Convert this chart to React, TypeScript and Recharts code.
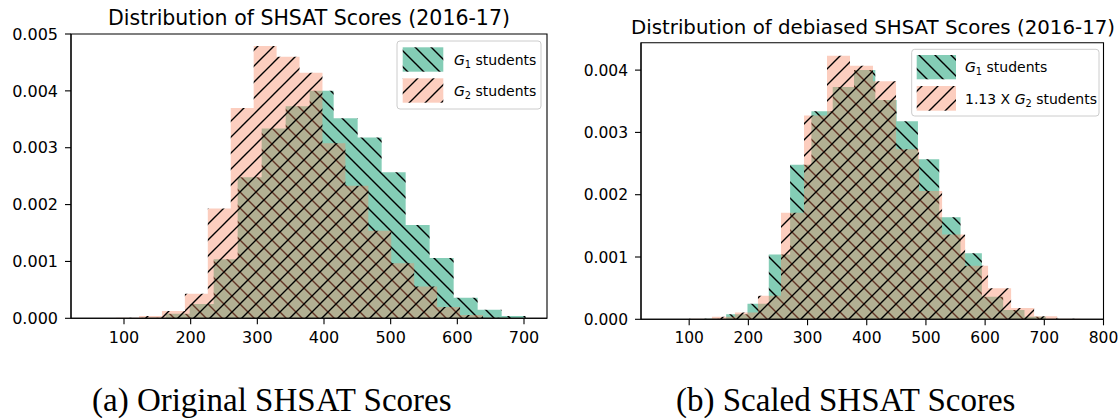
import React from 'react';
import { ComposedChart, Area, XAxis, YAxis, ReferenceArea } from 'recharts';

// ---------- data ----------
const g1Edges = [54.5, 90.5, 126.5, 162.5, 198.5, 234.5, 270.5, 306.5, 342.5, 378.5, 414.5, 450.5, 486.5, 522.5, 558.5, 594.5, 630.5, 666.5, 702.5];
const g1Density = [0, 0, 0.00001, 0.00008, 0.00025, 0.00104, 0.00248, 0.00334, 0.00373, 0.004, 0.00352, 0.00318, 0.00257, 0.00164, 0.00106, 0.00036, 0.00015, 0.00004];

const g2Edges = [53.7, 88.1, 122.5, 156.9, 191.3, 225.7, 260.1, 294.5, 328.9, 363.3, 397.7, 432.1, 466.5, 500.9, 535.3, 569.7, 604.1, 638.5, 672.9];
const g2Density = [0, 0.00001, 0.00004, 0.00013, 0.00043, 0.00193, 0.0037, 0.00479, 0.0046, 0.00432, 0.00308, 0.00233, 0.00154, 0.00097, 0.00056, 0.0002, 0.00006, 0.00001];

const g2ScaledEdges = [60.7, 99.6, 138.4, 177.3, 216.2, 255.1, 294.0, 332.9, 371.7, 410.6, 449.5, 488.4, 527.3, 566.2, 605.0, 643.9, 682.8, 721.7, 760.6];
const g2ScaledDensity = [0, 0.00001, 0.00004, 0.00011, 0.00038, 0.00171, 0.00327, 0.00423, 0.00407, 0.00382, 0.00273, 0.00206, 0.00136, 0.00086, 0.0005, 0.00018, 0.00005, 0.00001];

const leftXTicks = [100, 200, 300, 400, 500, 600, 700];
const rightXTicks = [100, 200, 300, 400, 500, 600, 700, 800];
const leftYTicks = [0, 0.001, 0.002, 0.003, 0.004, 0.005];
const rightYTicks = [0, 0.001, 0.002, 0.003, 0.004];

const leftTitle = 'Distribution of SHSAT Scores (2016-17)';
const rightTitle = 'Distribution of debiased SHSAT Scores (2016-17)';
const captionA = '(a) Original SHSAT Scores';
const captionB = '(b) Scaled SHSAT Scores';

// ---------- style ----------
const FONT = "'DejaVu Sans', sans-serif";
const SERIF = "'Liberation Serif', 'DejaVu Serif', serif";
const G1_COLOR = '#84CDB6';
const G2_COLOR = '#F8845F';
const G2_ALPHA = 0.4;
const S = 16;

type Pt = { x: number; g1?: number | null; g2?: number | null };

function steps(edges: number[], dens: number[], key: 'g1' | 'g2'): Pt[] {
  const pts: Pt[] = [];
  for (let i = 0; i < dens.length; i++) pts.push({ x: edges[i], [key]: dens[i] } as Pt);
  pts.push({ x: edges[dens.length], [key]: dens[dens.length - 1] } as Pt);
  return pts;
}

function merge(a: Pt[], b: Pt[]): Pt[] {
  return [...a, ...b].sort((p, q) => p.x - q.x);
}

const leftData = merge(steps(g1Edges, g1Density, 'g1'), steps(g2Edges, g2Density, 'g2'));
const rightData = merge(steps(g1Edges, g1Density, 'g1'), steps(g2ScaledEdges, g2ScaledDensity, 'g2'));

function hatchDefs(prefix: string) {
  const back = `M0,0L${S},${S}M${-S / 4},${(S * 3) / 4}L${S / 4},${(S * 5) / 4}M${(S * 3) / 4},${-S / 4}L${(S * 5) / 4},${S / 4}`;
  const fwd = `M0,${S}L${S},0M${-S / 4},${S / 4}L${S / 4},${-S / 4}M${(S * 3) / 4},${(S * 5) / 4}L${(S * 5) / 4},${(S * 3) / 4}`;
  return (
    <defs>
      <pattern id={`${prefix}-g1`} patternUnits="userSpaceOnUse" width={S} height={S}>
        <rect width={S} height={S} fill={G1_COLOR} />
        <path d={back} stroke="#000" strokeWidth={1.4} />
      </pattern>
      <pattern id={`${prefix}-g2`} patternUnits="userSpaceOnUse" width={S} height={S}>
        <rect width={S} height={S} fill={G2_COLOR} fillOpacity={G2_ALPHA} />
        <path d={fwd} stroke="#000" strokeWidth={1.4} />
      </pattern>
    </defs>
  );
}

const axisLine = { stroke: '#000', strokeWidth: 1.1 };

type PanelProps = {
  id: string;
  data: Pt[];
  xDomain: [number, number];
  yDomain: [number, number];
  xTicks: number[];
  yTicks: number[];
  margin: { top: number; right: number; bottom: number; left: number };
  fontSize: number;
};

function Panel({ id, data, xDomain, yDomain, xTicks, yTicks, margin, fontSize }: PanelProps) {
  const tick = { fontSize, fill: '#000', fontFamily: FONT };
  return (
    <ComposedChart width={560} height={360} data={data} margin={margin}>
      {hatchDefs(id)}
      <XAxis
        dataKey="x"
        type="number"
        domain={xDomain}
        allowDataOverflow
        ticks={xTicks}
        interval={0}
        height={30}
        tickSize={6}
        tickMargin={7}
        axisLine={axisLine}
        tickLine={{ stroke: '#000', strokeWidth: 1.1 }}
        tick={tick}
      />
      <YAxis
        type="number"
        domain={yDomain}
        allowDataOverflow
        ticks={yTicks}
        interval={0}
        width={60}
        tickSize={6}
        tickMargin={7}
        tickFormatter={(v: number) => v.toFixed(3)}
        axisLine={axisLine}
        tickLine={{ stroke: '#000', strokeWidth: 1.1 }}
        tick={tick}
      />
      <Area dataKey="g1" type="stepAfter" connectNulls stroke="none" fill={`url(#${id}-g1)`} fillOpacity={1} isAnimationActive={false} dot={false} activeDot={false} />
      <Area dataKey="g2" type="stepAfter" connectNulls stroke="none" fill={`url(#${id}-g2)`} fillOpacity={1} isAnimationActive={false} dot={false} activeDot={false} />
      <ReferenceArea
        x1={xDomain[0]}
        x2={xDomain[1]}
        y1={yDomain[0]}
        y2={yDomain[1]}
        fill="none"
        fillOpacity={0}
        stroke="#000"
        strokeWidth={1.1}
        ifOverflow="visible"
      />
    </ComposedChart>
  );
}

function LegendLabel({ x, y, prefix, sub }: { x: number; y: number; prefix?: string; sub: string }) {
  return (
    <text x={x} y={y} fontSize={14} fontFamily={FONT} fill="#000" style={{ whiteSpace: 'pre' }}>
      {prefix ? <tspan>{prefix}</tspan> : null}
      <tspan fontStyle="italic">G</tspan>
      <tspan fontSize={9.8} dy={3}>{sub}</tspan>
      <tspan dy={-3}>{' students'}</tspan>
    </text>
  );
}

export default function App() {
  return (
    <div style={{ position: 'absolute', left: 0, top: 0, width: 1120, height: 420, background: '#fff', overflow: 'hidden' }}>
      <div style={{ position: 'absolute', left: 0, top: 0 }}>
        <Panel
          id="L"
          data={leftData}
          xDomain={[20.5, 734.5]}
          yDomain={[0, 0.005]}
          xTicks={leftXTicks}
          yTicks={leftYTicks}
          margin={{ top: 34, right: 13, bottom: 11.7, left: 11 }}
          fontSize={16}
        />
      </div>
      <div style={{ position: 'absolute', left: 560, top: 0 }}>
        <Panel
          id="R"
          data={rightData}
          xDomain={[18.6, 800]}
          yDomain={[0, 0.00444]}
          xTicks={rightXTicks}
          yTicks={rightYTicks}
          margin={{ top: 42.7, right: 16.5, bottom: 10.7, left: 21 }}
          fontSize={15.5}
        />
      </div>
      <svg width={1120} height={420} style={{ position: 'absolute', left: 0, top: 0, pointerEvents: 'none' }}>
        {hatchDefs('O')}
        <text x={309} y={25} textAnchor="middle" fontSize={20.5} fontFamily={FONT} fill="#000">{leftTitle}</text>
        <text x={873} y={34} textAnchor="middle" fontSize={19.8} fontFamily={FONT} fill="#000">{rightTitle}</text>

        <rect x={397} y={41} width={144} height={68} rx={3} fill="#fff" fillOpacity={0.8} stroke="#ccc" />
        <rect x={402.7} y={47.3} width={40.6} height={24.4} fill="url(#O-g1)" />
        <rect x={402.7} y={78.3} width={40.6} height={24.4} fill="url(#O-g2)" />
        <LegendLabel x={454} y={65} sub="1" />
        <LegendLabel x={454} y={96} sub="2" />

        <rect x={911.7} y={49.3} width={187.3} height={66.7} rx={3} fill="#fff" fillOpacity={0.8} stroke="#ccc" />
        <rect x={916.7} y={55} width={39.3} height={24.3} fill="url(#O-g1)" />
        <rect x={916.7} y={86} width={39.3} height={24.7} fill="url(#O-g2)" />
        <LegendLabel x={965} y={72} sub="1" />
        <LegendLabel x={965} y={103.5} prefix="1.13 X " sub="2" />

        <text x={92} y={411} fontSize={33} fontFamily={SERIF} fill="#000">{captionA}</text>
        <text x={676} y={411} fontSize={33} fontFamily={SERIF} fill="#000">{captionB}</text>
      </svg>
    </div>
  );
}
